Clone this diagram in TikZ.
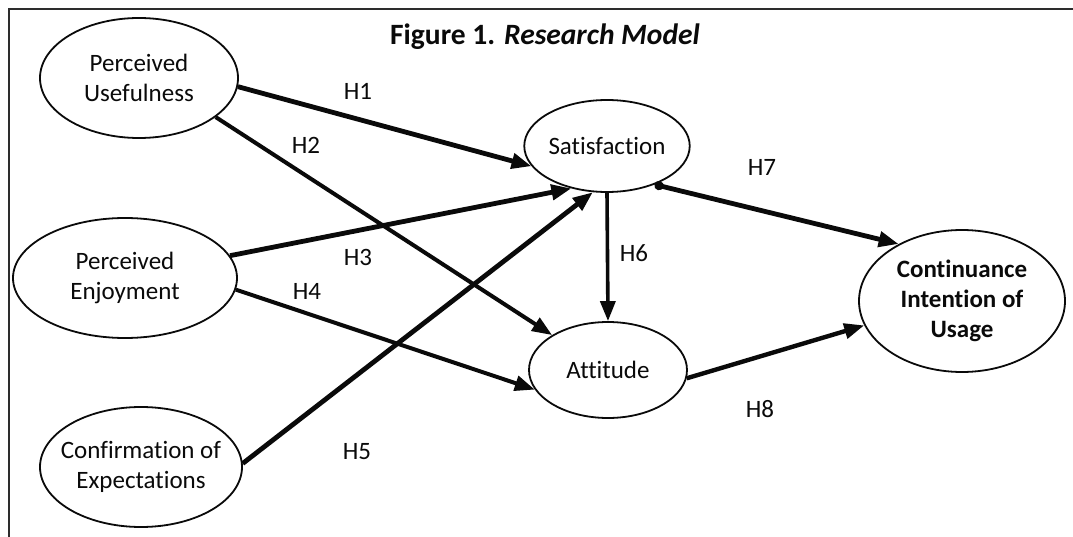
\documentclass[tikz,border=0pt]{standalone}
\usepackage{fontspec}
\setmainfont{Carlito}[Ligatures=NoCommon]
\usepackage{tikz}
\usetikzlibrary{positioning,arrows.meta,shapes.geometric,calc}
\definecolor{colorframe}    {RGB}{ 45, 45, 45}
\definecolor{colortext}     {RGB}{ 10, 10, 10}

\begin{document}
\begin{tikzpicture}[
    x=1pt, y=-1pt,
    font={\fontsize{25}{30}\selectfont},
    base/.style={text=colortext,ellipse,draw=colortext,line width=1.8pt,inner sep=0pt,align=center},
    construct/.style={base,inner xsep=-10pt,minimum width=198pt,minimum height=120pt},
    outcome/.style={base,font={\fontsize{25}{30}\selectfont\bfseries},minimum width=206pt,minimum height=142pt},
    hyp/.style={text=colortext,inner sep=0pt},
    path/.style={draw=colortext,line width=4pt,-{Triangle[length=20pt,width=15pt]}},
    strongpath/.style={path,line width=4.8pt},
]
    \useasboundingbox (0,0) rectangle (1073,537);
    \fill[white] (0,0) rectangle (1073,537);
    \draw[colorframe,line width=2.6pt] (9,537) |- (1073,9);

    \node[text=colortext,font={\fontsize{29.5}{34}\selectfont\bfseries},anchor=base] (title) at (545,45) {Figure 1. \textit{Research Model}};

    \node[construct] (usefulness)   at (139,78)  {Perceived\\Usefulness};
    \node[construct,minimum width=224pt] (enjoyment) at (125,278) {Perceived\\Enjoyment};
    \node[construct,minimum width=202pt] (confirmation) at (141,467) {Confirmation of\\Expectations};

    \node[base,minimum width=162pt,minimum height=92pt] (satisfaction) at (607,146) {Satisfaction};
    \node[base,minimum width=158pt,minimum height=96pt] (attitude)     at (608,370) {Attitude};

    \node[outcome] (continuance) at (962,301) {Continuance\\Intention of\\Usage};

    % hypotheses
    \draw[strongpath] (usefulness.-5)   -- (satisfaction.195);
    \draw[path]       (usefulness.-27)  -- (attitude.148);
    \draw[strongpath] (enjoyment.12)    -- (satisfaction.230);
    \draw[path]       (enjoyment.-6)    -- (attitude.195);
    \draw[strongpath] (confirmation.2)  -- (satisfaction.253);
    \draw[path,line width=3.6pt] (satisfaction.south) -- (attitude.north);
    \draw[strongpath,{Circle[length=9pt]}-{Triangle[length=20pt,width=15pt]}] (satisfaction.-39) -- (continuance.138);
    \draw[path,line width=4.4pt] (attitude.-6) -- (continuance.194);

    \node[hyp] (h1) at (358,91)  {H1};
    \node[hyp] (h2) at (306,145) {H2};
    \node[hyp] (h3) at (358,257) {H3};
    \node[hyp] (h4) at (307,291) {H4};
    \node[hyp] (h5) at (357,452) {H5};
    \node[hyp] (h6) at (634,253) {H6};
    \node[hyp] (h7) at (762,167) {H7};
    \node[hyp] (h8) at (760,409) {H8};

\end{tikzpicture}
\end{document}
